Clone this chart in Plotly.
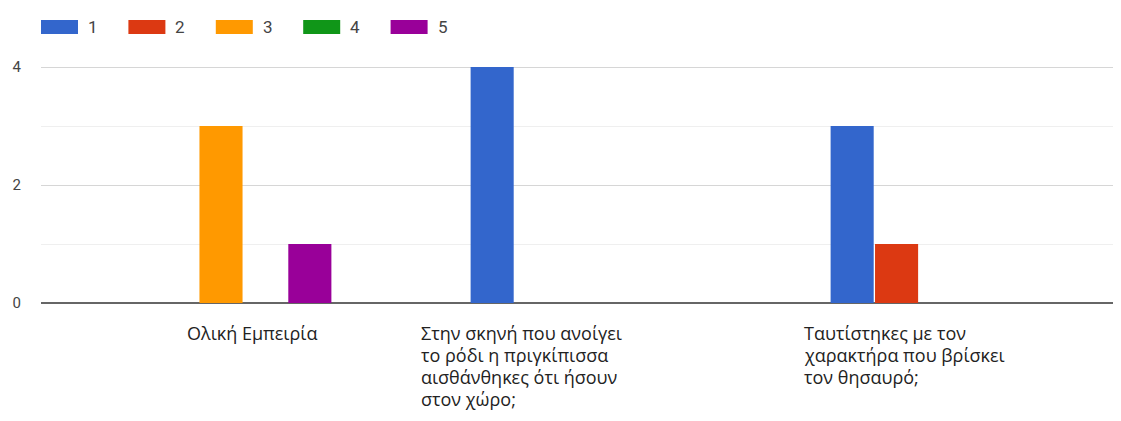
import plotly.graph_objects as go

categories = [
    "Ολική Εμπειρία",
    "Στην σκηνή που ανοίγει το ρόδι η πριγκίπισσα αισθάνθηκες ότι ήσουν στον χώρο;",
    "Ταυτίστηκες με τον χαρακτήρα που βρίσκει τον θησαυρό;",
]
category_lines = [
    ["Ολική Εμπειρία"],
    ["Στην σκηνή που ανοίγει", "το ρόδι η πριγκίπισσα", "αισθάνθηκες ότι ήσουν", "στον χώρο;"],
    ["Ταυτίστηκες με τον", "χαρακτήρα που βρίσκει", "τον θησαυρό;"],
]
series_names = ["1", "2", "3", "4", "5"]
series_values = [
    [0, 4, 3],  # 1
    [0, 0, 1],  # 2
    [3, 0, 0],  # 3
    [0, 0, 0],  # 4
    [1, 0, 0],  # 5
]
colors = ["#3366cc", "#dc3912", "#ff9900", "#109618", "#990099"]
y_tick_vals = [0, 2, 4]

# page body has an 8px margin; figure is sized/positioned to compensate
OFF = 8
W, H = 1121 - OFF, 421 - OFF
ML, MR, MT, MB = 33, 0, 0, 118
PW = W - ML - MR
PH = H - MT - MB

fig = go.Figure()
for name, vals, col in zip(series_names, series_values, colors):
    fig.add_trace(go.Bar(x=categories, y=vals, name=name,
                         marker=dict(color=col, line=dict(width=0)),
                         showlegend=False))

font_fam = "Roboto, 'Noto Sans', Arial, sans-serif"
label_fam = "'Open Sans', Roboto, 'Noto Sans', sans-serif"


def sx(px):  # screen x pixel -> paper
    return (px - OFF - ML) / PW


def sy(py):  # screen y pixel -> paper
    return (H - MB - (py - OFF)) / PH


shapes = []
annotations = []
leg_x0, leg_step, sw_w = 41, 87.4, 37
for i, (name, col) in enumerate(zip(series_names, colors)):
    x0 = leg_x0 + i * leg_step
    shapes.append(dict(type="rect", xref="paper", yref="paper",
                       x0=sx(x0), x1=sx(x0 + sw_w), y0=sy(34), y1=sy(20),
                       fillcolor=col, line=dict(width=0), layer="above"))
    annotations.append(dict(text=name, xref="paper", yref="paper",
                            x=sx(x0 + sw_w + 8), y=sy(27),
                            xanchor="left", yanchor="middle", showarrow=False,
                            font=dict(family=font_fam, size=17, color="#444444")))

# category labels (left aligned, wrapped, one annotation per line)
label_left_px = [185, 419, 802]
first_line_center, line_gap = 333, 22
for lines, lx in zip(category_lines, label_left_px):
    for j, line in enumerate(lines):
        annotations.append(dict(text=line, xref="paper", yref="paper",
                                x=sx(lx), y=sy(first_line_center + j * line_gap),
                                xanchor="left", yanchor="middle", align="left",
                                showarrow=False,
                                font=dict(family=label_fam, size=18, color="#222222")))

fig.update_layout(
    width=W, height=H,
    margin=dict(l=ML, r=MR, t=MT, b=MB, pad=0),
    paper_bgcolor="white", plot_bgcolor="white",
    barmode="group", bargap=0.383, bargroupgap=0.03,
    shapes=shapes, annotations=annotations,
    font=dict(family=font_fam),
    xaxis=dict(showticklabels=False, showgrid=False, zeroline=False, ticks="",
               showline=False),
    yaxis=dict(range=[0, 5], tickvals=y_tick_vals, showgrid=True,
               gridcolor="#d6d6d6", gridwidth=1,
               minor=dict(dtick=1, showgrid=True, gridcolor="#efefef", gridwidth=1, tick0=0),
               zeroline=True, zerolinecolor="#666666", zerolinewidth=2,
               ticks="", ticklabelstandoff=19,
               tickfont=dict(family=font_fam, size=15, color="#444444")),
)

fig.write_html("out.html")
